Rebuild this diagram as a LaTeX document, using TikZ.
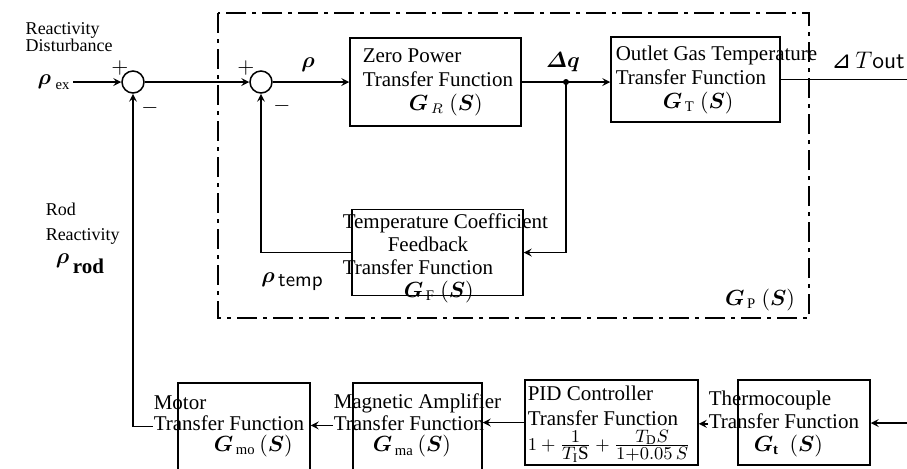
\documentclass[tikz,border=0pt]{standalone}
\usepackage{xcolor}
\usepackage{amsmath}
\usepackage{fontspec}
\setmainfont{Liberation Serif}
\newfontfamily\dejavu{DejaVu Sans}
\usepackage{tikz}

\begin{document}
\begin{tikzpicture}[x=0.5pt, y=-0.5pt, >=stealth, line width=0.75pt,
    every node/.style={font=\fontsize{10.5}{12}\selectfont},
    sumpt/.style={draw, circle, minimum size=11pt, inner sep=0pt},
    block/.style={draw, inner sep=0pt},
    lbl/.style={align=left, anchor=north west, inner sep=0pt},
    sig/.style={inner sep=1pt}]
    \useasboundingbox (0,0) rectangle (907,468);

    % Plant frame G_P(S)
    \draw[dash pattern=on 10pt off 3pt on 2pt off 3pt, line width=0.7pt] (218,13) rectangle (809,318);
    \node[sig] (gp) at (760,300) {$\boldsymbol{G}_{\,\mathrm{P}}\ (\boldsymbol{S})$};

    % Summing points
    \node[sumpt] (s1) at (133,82) {};
    \node[sumpt] (s2) at (261,82) {};
    \node (p1) at (120,68) {$+$};
    \node (m1) at (150,108) {$-$};
    \node (p2) at (246,68) {$+$};
    \node (m2) at (282,106) {$-$};

    % Blocks
    \node[block, minimum width=85.5pt, minimum height=44pt] (zp) at (435.5,82) {};
    \node[block, minimum width=84.5pt, minimum height=42.5pt] (og) at (695.5,79.5) {};
    \node[block, minimum width=85.5pt, minimum height=43pt] (tf) at (437.5,252.5) {};
    \node[block, minimum width=66pt, minimum height=44pt] (mo) at (244,427) {};
    \node[block, minimum width=64.5pt, minimum height=44pt] (ma) at (417.5,427) {};
    \node[block, minimum width=86.5pt, minimum height=42.5pt] (pid) at (611.5,422.5) {};
    \node[block, minimum width=66pt, minimum height=42.5pt] (tc) at (804,422.5) {};

    % Block texts
    \node[lbl] (zpt) at (362,48) {Zero Power\\Transfer Function\\\hspace*{23pt}$\boldsymbol{G}_{\,R}\ (\boldsymbol{S})$};
    \node[lbl] (ogt) at (615,45) {Outlet Gas Temperature\\Transfer Function\\\hspace*{23.5pt}$\boldsymbol{G}_{\,\mathrm{T}}\ (\boldsymbol{S})$};
    \node[lbl, font=\fontsize{10.5}{11.5}\selectfont] (tft) at (342,213) {Temperature Coefficient\\\hspace*{22.5pt}Feedback\\Transfer Function\\\hspace*{30.5pt}$\boldsymbol{G}_{\,\mathrm{F}}\ (\boldsymbol{S})$};
    \node[lbl, font=\fontsize{10.5}{10.5}\selectfont] (mot) at (153,395) {Motor\\Transfer Function\\\hspace*{30pt}$\boldsymbol{G}_{\,\mathrm{mo}}\,(\boldsymbol{S})$};
    \node[lbl, font=\fontsize{10.5}{10.8}\selectfont] (mat) at (333,393) {Magnetic Amplifier\\Transfer Function\\\hspace*{19.5pt}$\boldsymbol{G}_{\,\mathrm{ma}}\,(\boldsymbol{S})$};
    \node[lbl, font=\fontsize{10.5}{12.5}\selectfont] (pidt) at (527,385) {PID Controller\\Transfer Function\\{\fontsize{9.5}{12.5}\selectfont$1+\frac{\textstyle 1}{\textstyle T_{\mathrm{I}}\mathrm{S}}+\frac{\textstyle T_{\mathrm{D}}S}{\textstyle 1{+}0.05\,S}$}};
    \node[lbl, font=\fontsize{10.5}{11.5}\selectfont] (tct) at (708,390) {Thermocouple\\Transfer Function\\\hspace*{22.5pt}$\boldsymbol{G}_{\mathbf{t}}\ \ (\boldsymbol{S})$};

    % Signal labels
    \node[sig] (rex) at (54,82) {$\boldsymbol{\rho}_{\;\mathrm{ex}}$};
    \node[lbl, font=\fontsize{9}{8.5}\selectfont] (dist) at (25,22) {Reactivity\\Disturbance};
    \node[lbl, font=\fontsize{9}{12.5}\selectfont] (rodt) at (45,202) {Rod\\Reactivity};
    \node[sig] (rrod) at (80,264) {$\boldsymbol{\rho}$\,\raisebox{-5pt}{\textbf{rod}}};
    \node[sig] (rtemp) at (292,282) {$\boldsymbol{\rho}$\,\raisebox{-2pt}{\textsf{temp}}};
    \node[sig] (rho) at (308,65) {$\boldsymbol{\rho}$};
    \node[sig] (dq) at (563,62) {$\boldsymbol{\varDelta q}$};
    \node[sig] (dt) at (868,60) {\large{\dejavu ⊿}\,$T${\sffamily out}};

    % Connections
    \coordinate (jq) at (566,82);
    \coordinate (out) at (907,79.5);
    \coordinate (in) at (907,423);
    \draw[->] (rex) -- (s1);
    \draw[->] (s1) -- (s2);
    \draw[->] (s2) -- (zp);
    \draw[->] (zp.east) -- (zp.east -| og.west);
    \draw (og.east) -- (out);
    \fill (jq) circle (1.5pt);
    \draw[->] (jq) |- (tf.east);
    \draw[->] (tf.west) -| (s2.south);
    \draw[->] (in) -- (in -| tc.east);
    \draw[->] (tct.west) -- (tct.west -| pid.east);
    \draw[->] (pid.west) -- (pid.west -| ma.east);
    \draw[->] (mat.west) -- (mat.west -| mo.east);
    \draw[->] (mot.west) -- (mot.west -| s1) -- (s1);
\end{tikzpicture}
\end{document}
